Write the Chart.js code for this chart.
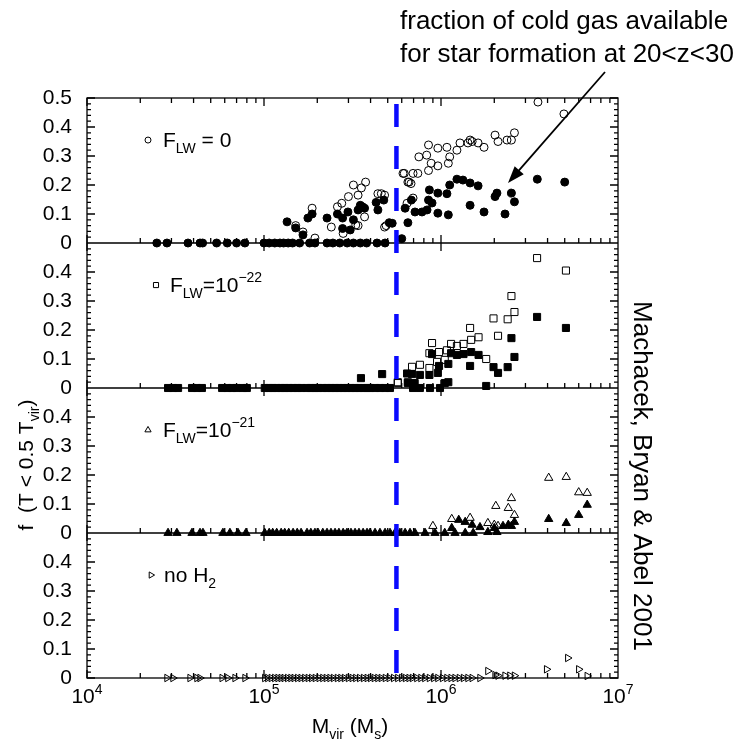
<!DOCTYPE html>
<html>
<head>
<meta charset="utf-8">
<script src="https://cdn.jsdelivr.net/npm/chart.js@4.4.1/dist/chart.umd.min.js"></script>
<style>
  html, body { margin: 0; padding: 0; background: #fff; }
</style>
</head>
<body>
<canvas id="chart" width="743" height="740"></canvas>
<script>
const FONT = "'Liberation Sans', Arial, sans-serif";

// massas (M_sun) dos halos com f = 0, um array por painel
const zeroMassNoLW = [2.48e4, 2.83e4, 3.72e4, 4.35e4, 4.5e4, 5.4e4, 6.2e4, 7.0e4, 7.8e4, 1.0e5, 1.07e5, 1.15e5,
  1.23e5, 1.29e5, 1.37e5, 1.45e5, 1.59e5, 1.81e5, 1.94e5, 2.27e5, 2.45e5, 2.68e5, 2.95e5, 3.2e5, 3.5e5, 3.8e5,
  4.35e5, 4.83e5];
const zeroMassLW22 = [2.87e4, 3.06e4, 3.27e4, 3.92e4, 4.18e4, 4.46e4, 5.8e4, 6.2e4, 6.6e4, 7.0e4, 7.6e4, 8.0e4,
  1.01e5, 1.07e5, 1.12e5, 1.18e5, 1.25e5, 1.31e5, 1.38e5, 1.46e5, 1.54e5, 1.62e5, 1.75e5, 1.84e5, 1.94e5, 2.02e5,
  2.15e5, 2.27e5, 2.39e5, 2.52e5, 2.65e5, 2.8e5, 2.94e5, 3.1e5, 3.27e5, 3.44e5, 3.63e5, 3.82e5, 3.97e5, 4.24e5,
  4.52e5, 4.83e5, 5.15e5, 6.95e5, 7.6e5, 8.67e5, 9.87e5];
const zeroMassLW21 = [2.87e4, 3.22e4, 3.92e4, 4.35e4, 4.52e4, 5.86e4, 6.42e4, 7.13e4, 7.91e4, 1.01e5, 1.07e5,
  1.12e5, 1.18e5, 1.25e5, 1.31e5, 1.38e5, 1.46e5, 1.54e5, 1.62e5, 1.75e5, 1.84e5, 1.94e5, 2.02e5, 2.15e5, 2.27e5,
  2.39e5, 2.52e5, 2.65e5, 2.8e5, 2.94e5, 3.1e5, 3.27e5, 3.44e5, 3.63e5, 3.82e5, 3.97e5, 4.24e5, 4.52e5, 4.83e5,
  5.15e5, 5.5e5, 5.86e5, 6.27e5, 6.68e5, 7.13e5, 8.13e5, 9.25e5, 1.05e6, 1.2e6, 1.37e6, 1.52e6];
const zeroMassNoH2 = [2.83e4, 3.06e4, 3.82e4, 4.18e4, 4.35e4, 5.8e4, 6.25e4, 6.86e4, 7.81e4, 1.01e5, 1.05e5, 1.1e5,
  1.15e5, 1.2e5, 1.25e5, 1.3e5, 1.36e5, 1.42e5, 1.48e5, 1.55e5, 1.62e5, 1.7e5, 1.78e5, 1.86e5, 1.95e5, 2.05e5,
  2.15e5, 2.25e5, 2.36e5, 2.47e5, 2.6e5, 2.72e5, 2.85e5, 3.0e5, 3.15e5, 3.3e5, 3.47e5, 3.65e5, 3.83e5, 4.0e5,
  4.2e5, 4.4e5, 4.6e5, 4.85e5, 5.1e5, 5.4e5, 5.7e5, 6.0e5, 6.3e5, 6.6e5, 6.9e5, 7.3e5, 7.7e5, 8.1e5, 8.6e5,
  9.1e5, 9.6e5, 1.02e6, 1.08e6, 1.14e6, 1.2e6, 1.27e6, 1.34e6, 1.42e6, 1.5e6, 1.66e6];

// pontos [massa, f] com f > 0 (aberto / cheio)
const openNoLW = [[1.87e5, 0.12], [1.51e5, 0.06], [1.66e5, 0.038], [1.94e5, 0.017], [2.4e5, 0.055],
  [2.6e5, 0.125], [2.75e5, 0.137], [2.8e5, 0.033], [3.0e5, 0.16], [3.2e5, 0.2], [3.4e5, 0.165], [3.55e5, 0.19],
  [3.75e5, 0.21], [3.3e5, 0.062], [3.4e5, 0.06], [3.7e5, 0.09], [4.4e5, 0.17], [4.8e5, 0.165], [4.8e5, 0.055],
  [4.9e5, 0.06], [6.1e5, 0.24], [6.5e5, 0.21], [3.53e6, 0.486], [4.95e6, 0.445], [2.02e6, 0.372], [2.1e6, 0.35],
  [2.36e6, 0.355], [2.5e6, 0.355], [2.6e6, 0.38], [1.46e6, 0.355], [1.5e6, 0.35], [1.62e6, 0.345],
  [1.75e6, 0.33], [1.28e6, 0.345], [1.42e6, 0.345], [1.23e6, 0.32], [1.08e6, 0.33], [1.12e6, 0.297],
  [9.6e5, 0.327], [8.5e5, 0.338], [8.3e5, 0.303], [7.5e5, 0.297], [8.8e5, 0.275], [9.6e5, 0.266],
  [1.1e6, 0.275], [8.5e5, 0.25], [7.4e5, 0.24], [6.2e5, 0.24], [6.95e5, 0.24], [6.6e5, 0.21], [6.77e5, 0.205],
  [6.43e5, 0.137], [6.95e5, 0.155], [4.6e5, 0.17]];
const filledNoLW = [[6.0e5, 0.015], [1.35e5, 0.073], [1.51e5, 0.052], [1.77e5, 0.086], [1.87e5, 0.1],
  [1.66e5, 0.028], [2.27e5, 0.086], [2.6e5, 0.1], [2.78e5, 0.086], [2.78e5, 0.05], [2.98e5, 0.107],
  [3.07e5, 0.045], [3.2e5, 0.08], [3.4e5, 0.114], [3.5e5, 0.13], [3.6e5, 0.125], [3.7e5, 0.12], [4.3e5, 0.14],
  [4.4e5, 0.114], [4.75e5, 0.148], [5.3e5, 0.068], [5.1e5, 0.07], [6.5e5, 0.07], [3.5e6, 0.22], [5.0e6, 0.21],
  [1.23e6, 0.22], [1.33e6, 0.217], [1.46e6, 0.207], [1.62e6, 0.197], [1.12e6, 0.2], [1.08e6, 0.17],
  [8.6e5, 0.183], [9.6e5, 0.172], [2.07e6, 0.172], [2.02e6, 0.16], [2.5e6, 0.172], [2.6e6, 0.142],
  [8.5e5, 0.148], [8.9e5, 0.138], [6.8e5, 0.148], [1.46e6, 0.13], [1.75e6, 0.107], [2.3e6, 0.1],
  [9.6e5, 0.103], [1.1e6, 0.097], [6.27e5, 0.12], [7.13e5, 0.107], [7.81e5, 0.107], [8.34e5, 0.114]];
const openLW22 = [[5.7e5, 0.02], [3.49e6, 0.448], [5.08e6, 0.405], [2.5e6, 0.317], [2.6e6, 0.262],
  [1.98e6, 0.24], [2.38e6, 0.237], [1.46e6, 0.207], [2.1e6, 0.18], [1.48e6, 0.166], [1.63e6, 0.175],
  [8.9e5, 0.155], [1.14e6, 0.152], [1.23e6, 0.145], [1.34e6, 0.152], [8.6e5, 0.12], [9.75e5, 0.124],
  [1.08e6, 0.13], [6.86e5, 0.073], [7.6e5, 0.08], [8.6e5, 0.069], [9.5e5, 0.09], [1.05e6, 0.097],
  [1.8e6, 0.1], [6.5e5, 0.02], [5.7e5, 0.017]];
const filledLW22 = [[3.53e5, 0.034], [4.65e5, 0.048], [6.43e5, 0.05], [3.49e6, 0.245], [5.08e6, 0.207],
  [2.5e6, 0.172], [2.6e6, 0.107], [2.38e6, 0.072], [1.98e6, 0.072], [2.1e6, 0.052], [1.46e6, 0.076],
  [1.63e6, 0.114], [1.48e6, 0.124], [1.14e6, 0.12], [1.23e6, 0.114], [1.34e6, 0.117], [8.9e5, 0.117],
  [9.75e5, 0.076], [1.1e6, 0.083], [8.6e5, 0.045], [9.6e5, 0.052], [7.6e5, 0.045], [6.86e5, 0.048],
  [6.5e5, 0.017], [7.1e5, 0.017], [1.1e6, 0.02], [1.05e6, 0.017], [1.8e6, 0.007]];
const openLW21 = [[4.06e6, 0.19], [5.1e6, 0.193], [6.0e6, 0.14], [6.7e6, 0.138], [2.5e6, 0.12],
  [2.04e6, 0.093], [2.4e6, 0.086], [2.6e6, 0.062], [1.15e6, 0.048], [1.46e6, 0.052], [9.0e5, 0.024],
  [1.84e6, 0.034], [2.0e6, 0.028], [2.1e6, 0.024]];
const filledLW21 = [[4.06e6, 0.048], [5.1e6, 0.034], [6.0e6, 0.062], [6.7e6, 0.097], [2.6e6, 0.038],
  [2.5e6, 0.024], [2.4e6, 0.028], [2.24e6, 0.024], [1.26e6, 0.045], [1.37e6, 0.038], [1.5e6, 0.028],
  [1.15e6, 0.017], [1.66e6, 0.02], [1.84e6, 0.003], [2.07e6, 0.003], [2.0e6, 0.017]];
const openNoH2 = [[5.2e6, 0.069], [3.95e6, 0.03], [6.0e6, 0.03], [6.7e6, 0.007], [1.84e6, 0.024],
  [2.02e6, 0.01], [2.1e6, 0.008], [2.3e6, 0.008], [2.45e6, 0.008], [2.6e6, 0.008]];

const yTickValues = [0, 0.1, 0.2, 0.3, 0.4, 0.5];
const xDecades = [4, 5, 6, 7];
const jeansMass = 5.6e5;   // linha azul tracejada

const toXY = a => a.map(p => ({ x: p[0], y: p[1] }));
const zeros = a => a.map(m => ({ x: m, y: 0 }));

function serie(data, axis, style, filled, radius, rotation) {
  return {
    data: data, yAxisID: axis, pointStyle: style, pointRadius: radius, rotation: rotation || 0,
    borderColor: '#000', borderWidth: 1, backgroundColor: filled ? '#000' : 'rgba(0,0,0,0)',
    showLine: false, clip: false, pointHoverRadius: radius
  };
}

function painel(isTop) {
  return {
    type: 'linear', position: 'left', stack: 'panels', stackWeight: 1, min: 0, max: 0.5,
    grid: { display: false, drawTicks: false }, border: { display: false },
    ticks: {
      autoSkip: false, stepSize: 0.1, color: '#000', padding: 15, font: { family: FONT, size: 21 },
      callback: v => v === 0 ? '0' : v.toFixed(1)
    },
    afterBuildTicks: s => {
      s.ticks = yTickValues.filter(v => isTop || v < 0.45).map(v => ({ value: v }));
    },
    afterFit: s => { s.width = 87; }
  };
}

function richText(ctx, parts, x, y, align) {
  let w = 0;
  parts.forEach(p => { ctx.font = p[1] + 'px ' + FONT; w += ctx.measureText(p[0]).width; });
  let cx = align === 'center' ? x - w / 2 : (align === 'right' ? x - w : x);
  ctx.textAlign = 'left';
  ctx.textBaseline = 'alphabetic';
  parts.forEach(p => {
    ctx.font = p[1] + 'px ' + FONT;
    ctx.fillText(p[0], cx, y + (p[2] || 0));
    cx += ctx.measureText(p[0]).width;
  });
}

const legendas = [
  { axis: 'p1', style: 'circle', r: 3, rot: 0, dx: 61, tx: 76,
    parts: [['F', 21], ['LW', 14, 6], [' = 0', 21]] },
  { axis: 'p2', style: 'rect', r: 3.6, rot: 0, dx: 69, tx: 83,
    parts: [['F', 21], ['LW', 14, 6], ['=10', 21], ['\u221222', 14, -10]] },
  { axis: 'p3', style: 'triangle', r: 3.6, rot: 0, dx: 61, tx: 76,
    parts: [['F', 21], ['LW', 14, 6], ['=10', 21], ['\u221221', 14, -10]] },
  { axis: 'p4', style: 'triangle', r: 3.6, rot: 90, dx: 64, tx: 77,
    parts: [['no H', 21], ['2', 14, 6]] }
];

const decor = {
  id: 'decor',
  beforeDatasetsDraw(chart) {
    const ctx = chart.ctx, a = chart.chartArea, xs = chart.scales.x;
    const paineis = ['p1', 'p2', 'p3', 'p4'].map(k => chart.scales[k]);
    ctx.save();
    ctx.strokeStyle = '#000';
    ctx.lineWidth = 1.3;
    ctx.strokeRect(a.left, a.top, a.right - a.left, a.bottom - a.top);
    ctx.beginPath();
    paineis.forEach((s, i) => {
      const y0 = s.getPixelForValue(0);
      if (i < 3) { ctx.moveTo(a.left, y0); ctx.lineTo(a.right, y0); }
      // ticks do eixo y, esquerda e direita
      for (let k = 0; k <= 25; k++) {
        const v = k * 0.02;
        const y = s.getPixelForValue(v);
        const len = k % 5 === 0 ? 8 : 4;
        ctx.moveTo(a.left, y); ctx.lineTo(a.left + len, y);
        ctx.moveTo(a.right, y); ctx.lineTo(a.right - len, y);
      }
    });
    // ticks do eixo x em cada linha horizontal
    const linhas = [a.top].concat(paineis.map(s => s.getPixelForValue(0)));
    for (let d = 4; d <= 6; d++) {
      for (let k = 1; k <= 9; k++) {
        const x = xs.getPixelForValue(k * Math.pow(10, d));
        const major = k === 1;
        linhas.forEach((y, i) => {
          const up = major ? 8 : 5;
          if (i === 0) { ctx.moveTo(x, y); ctx.lineTo(x, y + up); return; }
          ctx.moveTo(x, y); ctx.lineTo(x, y - up);
          if (major && i < 4) { ctx.moveTo(x, y); ctx.lineTo(x, y + up); }
        });
      }
    }
    ctx.stroke();
    ctx.restore();
  },
  afterDatasetsDraw(chart) {
    const ctx = chart.ctx, a = chart.chartArea, xs = chart.scales.x;
    ctx.save();
    // linha azul tracejada
    const xj = xs.getPixelForValue(jeansMass);
    ctx.strokeStyle = '#0a0aff';
    ctx.lineWidth = 4.5;
    ctx.setLineDash([23, 19]);
    ctx.lineDashOffset = 36;
    ctx.beginPath();
    ctx.moveTo(xj, a.top);
    ctx.lineTo(xj, a.bottom);
    ctx.stroke();
    ctx.setLineDash([]);

    ctx.fillStyle = '#000';
    ctx.strokeStyle = '#000';
    // rótulos do eixo x
    xDecades.forEach(d => {
      const x = xs.getPixelForValue(Math.pow(10, d));
      richText(ctx, [['10', 21], [String(d), 14, -9]], x, 703, 'center');
    });
    richText(ctx, [['M', 21], ['vir', 14, 6], [' (M', 21], ['s', 14, 6], [')', 21]], 350, 733, 'center');

    // título do eixo y
    ctx.save();
    ctx.translate(33, 465);
    ctx.rotate(-Math.PI / 2);
    richText(ctx, [['f  (T < 0.5 T', 21], ['vir', 14, 6], [')', 21]], 0, 0, 'center');
    ctx.restore();

    // referência à direita
    ctx.save();
    ctx.translate(634, 476);
    ctx.rotate(Math.PI / 2);
    richText(ctx, [['Machacek, Bryan & Abel 2001', 26]], 0, 0, 'center');
    ctx.restore();

    // anotação e seta
    richText(ctx, [['fraction of cold gas available', 26]], 400, 29, 'left');
    richText(ctx, [['for star formation at 20<z<30', 26]], 400, 62, 'left');
    const x1 = 605, y1 = 72, x2 = 508, y2 = 183;
    const ang = Math.atan2(y2 - y1, x2 - x1);
    ctx.lineWidth = 1.8;
    ctx.beginPath();
    ctx.moveTo(x1, y1);
    ctx.lineTo(x2 - 12 * Math.cos(ang), y2 - 12 * Math.sin(ang));
    ctx.stroke();
    ctx.beginPath();
    ctx.moveTo(x2, y2);
    ctx.lineTo(x2 - 17 * Math.cos(ang) + 6 * Math.sin(ang), y2 - 17 * Math.sin(ang) - 6 * Math.cos(ang));
    ctx.lineTo(x2 - 17 * Math.cos(ang) - 6 * Math.sin(ang), y2 - 17 * Math.sin(ang) + 6 * Math.cos(ang));
    ctx.closePath();
    ctx.fill();

    // legendas dos painéis (marcadores vazios)
    legendas.forEach(l => {
      const s = chart.scales[l.axis];
      const y = s.getPixelForValue(0.355);
      ctx.lineWidth = 1;
      ctx.strokeStyle = '#000';
      ctx.fillStyle = 'rgba(0,0,0,0)';
      Chart.helpers.drawPoint(ctx, { pointStyle: l.style, radius: l.r, rotation: l.rot, borderWidth: 1 },
        a.left + l.dx, y);
      ctx.fillStyle = '#000';
      richText(ctx, l.parts, a.left + l.tx, y + 7, 'left');
    });
    ctx.restore();
  }
};

new Chart(document.getElementById('chart').getContext('2d'), {
  type: 'scatter',
  data: {
    datasets: [
      serie(toXY(openNoLW), 'p1', 'circle', false, 4),
      serie(toXY(filledNoLW).concat(zeros(zeroMassNoLW)), 'p1', 'circle', true, 4),
      serie(toXY(openLW22), 'p2', 'rect', false, 5),
      serie(toXY(filledLW22).concat(zeros(zeroMassLW22)), 'p2', 'rect', true, 5),
      serie(toXY(openLW21), 'p3', 'triangle', false, 4.8),
      serie(toXY(filledLW21).concat(zeros(zeroMassLW21)), 'p3', 'triangle', true, 4.8),
      serie(toXY(openNoH2).concat(zeros(zeroMassNoH2)), 'p4', 'triangle', false, 4.3, 90)
    ]
  },
  options: {
    responsive: false,
    animation: false,
    devicePixelRatio: 1,
    layout: { padding: { top: 98, right: 125, left: 0, bottom: 0 } },
    plugins: { legend: { display: false }, tooltip: { enabled: false } },
    scales: {
      x: {
        type: 'logarithmic', min: 1e4, max: 1e7,
        ticks: { display: false }, grid: { display: false }, border: { display: false },
        afterFit: s => { s.height = 62; }
      },
      p4: painel(false),
      p3: painel(false),
      p2: painel(false),
      p1: painel(true)
    }
  },
  plugins: [decor]
});
</script>
</body>
</html>
